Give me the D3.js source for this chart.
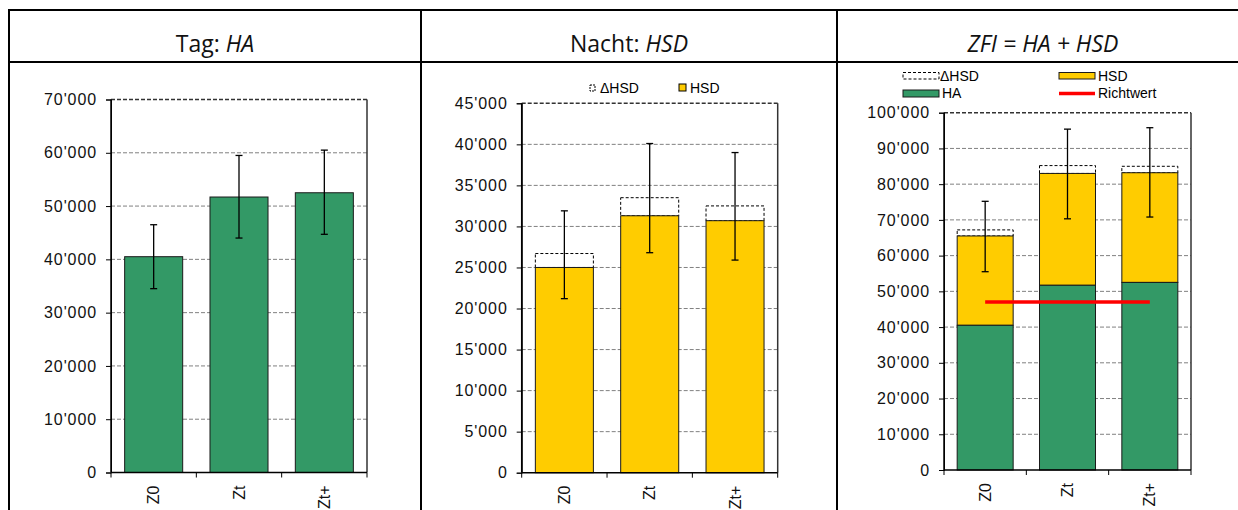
<!DOCTYPE html>
<html>
<head>
<meta charset="utf-8">
<script src="https://cdn.jsdelivr.net/npm/d3@7"></script>
<style>
    body { margin: 0; background: #fff; }
    svg { display: block; }
</style>
</head>
<body>
<script>
// values
const categories = ["Z0", "Zt", "Zt+"];
const haValues = [40500, 51700, 52500];
const haErrLow = [34500, 44000, 44700];
const haErrHigh = [46500, 59500, 60500];
const hsdValues = [25000, 31300, 30700];
const deltaHsdValues = [1700, 2200, 1800];
const hsdErrLow = [21200, 26800, 25900];
const hsdErrHigh = [31900, 40100, 39000];
const zfiErrLow = [55500, 70300, 70800];
const zfiErrHigh = [75200, 95400, 95800];
const richtwert = 47000;
const yTicksTag = d3.range(0, 70001, 10000);
const yTicksNacht = d3.range(0, 45001, 5000);
const yTicksZfi = d3.range(0, 100001, 10000);

const GREEN = "#339966";
const YELLOW = "#FFCC00";
const AXIS_FONT = "'Liberation Sans', Arial, sans-serif";
const HEAD_FONT = "'Open Sans', 'Noto Sans', sans-serif";

const locale = d3.formatLocale({ decimal: ".", thousands: "'", grouping: [3], currency: ["", ""] });
const fmt = locale.format(",");

window.onload = initPage;

function initPage() {
    const svg = d3.select("body")
        .append("svg")
        .attr("width", 1238)
        .attr("height", 510);

    drawTable(svg);

    // Tag: HA
    const p1 = makePanel(svg, { left: 111, right: 367, top: 99.5, bottom: 472.5, max: 70000, ticks: yTicksTag });
    p1.g.selectAll(".ha")
        .data(categories)
        .join("rect")
        .attr("x", (d) => p1.x(d))
        .attr("width", p1.x.bandwidth())
        .attr("y", (d, i) => p1.y(haValues[i]))
        .attr("height", (d, i) => p1.y(0) - p1.y(haValues[i]))
        .attr("fill", GREEN)
        .attr("stroke", "#1a1a1a");
    drawErrors(p1, haErrLow, haErrHigh);

    // Nacht: HSD
    const p2 = makePanel(svg, { left: 521.7, right: 777.7, top: 103.3, bottom: 472.7, max: 45000, ticks: yTicksNacht });
    p2.g.selectAll(".delta")
        .data(categories)
        .join("rect")
        .attr("x", (d) => p2.x(d))
        .attr("width", p2.x.bandwidth())
        .attr("y", (d, i) => p2.y(hsdValues[i] + deltaHsdValues[i]))
        .attr("height", (d, i) => p2.y(hsdValues[i]) - p2.y(hsdValues[i] + deltaHsdValues[i]))
        .attr("fill", "#fff")
        .attr("stroke", "#000")
        .attr("stroke-dasharray", "3,2");
    p2.g.selectAll(".hsd")
        .data(categories)
        .join("rect")
        .attr("x", (d) => p2.x(d))
        .attr("width", p2.x.bandwidth())
        .attr("y", (d, i) => p2.y(hsdValues[i]))
        .attr("height", (d, i) => p2.y(0) - p2.y(hsdValues[i]))
        .attr("fill", YELLOW)
        .attr("stroke", "#1a1a1a");
    drawErrors(p2, hsdErrLow, hsdErrHigh);

    const leg2 = svg.append("g").attr("font-family", AXIS_FONT).attr("font-size", 14);
    leg2.append("rect").attr("x", 590).attr("y", 85).attr("width", 5).attr("height", 6)
        .attr("fill", "#fff").attr("stroke", "#000").attr("stroke-dasharray", "2,1");
    leg2.append("text").attr("x", 600).attr("y", 88).attr("dy", "0.35em").text("ΔHSD");
    leg2.append("rect").attr("x", 679).attr("y", 84).attr("width", 7).attr("height", 7)
        .attr("fill", YELLOW).attr("stroke", "#000");
    leg2.append("text").attr("x", 690).attr("y", 88).attr("dy", "0.35em").text("HSD");

    // ZFI = HA + HSD
    const p3 = makePanel(svg, { left: 944, right: 1191, top: 112.7, bottom: 470, max: 100000, ticks: yTicksZfi });
    p3.g.selectAll(".delta")
        .data(categories)
        .join("rect")
        .attr("x", (d) => p3.x(d))
        .attr("width", p3.x.bandwidth())
        .attr("y", (d, i) => p3.y(haValues[i] + hsdValues[i] + deltaHsdValues[i]))
        .attr("height", (d, i) => p3.y(haValues[i] + hsdValues[i]) - p3.y(haValues[i] + hsdValues[i] + deltaHsdValues[i]))
        .attr("fill", "#fff")
        .attr("stroke", "#000")
        .attr("stroke-dasharray", "3,2");
    p3.g.selectAll(".hsd")
        .data(categories)
        .join("rect")
        .attr("x", (d) => p3.x(d))
        .attr("width", p3.x.bandwidth())
        .attr("y", (d, i) => p3.y(haValues[i] + hsdValues[i]))
        .attr("height", (d, i) => p3.y(haValues[i]) - p3.y(haValues[i] + hsdValues[i]))
        .attr("fill", YELLOW)
        .attr("stroke", "#1a1a1a");
    p3.g.selectAll(".ha")
        .data(categories)
        .join("rect")
        .attr("x", (d) => p3.x(d))
        .attr("width", p3.x.bandwidth())
        .attr("y", (d, i) => p3.y(haValues[i]))
        .attr("height", (d, i) => p3.y(0) - p3.y(haValues[i]))
        .attr("fill", GREEN)
        .attr("stroke", "#1a1a1a");
    const c = (d) => p3.x(d) + p3.x.bandwidth() / 2;
    p3.g.append("line")
        .attr("x1", c(categories[0]))
        .attr("x2", c(categories[categories.length - 1]))
        .attr("y1", p3.y(richtwert))
        .attr("y2", p3.y(richtwert))
        .attr("stroke", "#ff0000")
        .attr("stroke-width", 3.5);
    drawErrors(p3, zfiErrLow, zfiErrHigh);

    const leg3 = svg.append("g").attr("font-family", AXIS_FONT).attr("font-size", 14);
    leg3.append("rect").attr("x", 903).attr("y", 72.5).attr("width", 36).attr("height", 6.5)
        .attr("fill", "#fff").attr("stroke", "#000").attr("stroke-dasharray", "3,2");
    leg3.append("text").attr("x", 940).attr("y", 76).attr("dy", "0.35em").text("ΔHSD");
    leg3.append("rect").attr("x", 1059).attr("y", 72.5).attr("width", 36).attr("height", 6.5)
        .attr("fill", YELLOW).attr("stroke", "#1a1a1a");
    leg3.append("text").attr("x", 1098).attr("y", 76).attr("dy", "0.35em").text("HSD");
    leg3.append("rect").attr("x", 903).attr("y", 90).attr("width", 36).attr("height", 7)
        .attr("fill", GREEN).attr("stroke", "#1a1a1a");
    leg3.append("text").attr("x", 942).attr("y", 93.5).attr("dy", "0.35em").text("HA");
    leg3.append("line").attr("x1", 1059).attr("x2", 1095).attr("y1", 93.5).attr("y2", 93.5)
        .attr("stroke", "#ff0000").attr("stroke-width", 3.5);
    leg3.append("text").attr("x", 1098).attr("y", 93.5).attr("dy", "0.35em").text("Richtwert");
}

function drawTable(svg) {
    const t = svg.append("g").attr("stroke", "#000").attr("stroke-width", 2).attr("fill", "none");
    t.append("line").attr("x1", 9).attr("x2", 1238).attr("y1", 10).attr("y2", 10);
    t.append("line").attr("x1", 9).attr("x2", 1238).attr("y1", 62).attr("y2", 62);
    [9, 421, 837].forEach((x) => {
        t.append("line").attr("x1", x).attr("x2", x).attr("y1", 9).attr("y2", 510);
    });

    const h = svg.append("g")
        .attr("font-family", HEAD_FONT)
        .attr("font-size", 23)
        .attr("text-anchor", "middle")
        .attr("fill", "#111");
    const t1 = h.append("text").attr("x", 215).attr("y", 44).attr("dy", "0.35em");
    t1.append("tspan").text("Tag: ");
    t1.append("tspan").attr("font-style", "italic").text("HA");
    const t2 = h.append("text").attr("x", 629).attr("y", 44).attr("dy", "0.35em");
    t2.append("tspan").text("Nacht: ");
    t2.append("tspan").attr("font-style", "italic").text("HSD");
    h.append("text").attr("x", 1043).attr("y", 44).attr("dy", "0.35em")
        .attr("font-style", "italic").text("ZFI = HA + HSD");
}

function makePanel(svg, cfg) {
    const x = d3.scaleBand()
        .domain(categories)
        .range([cfg.left, cfg.right])
        .paddingInner(0.32)
        .paddingOuter(0.16);
    const y = d3.scaleLinear()
        .domain([0, cfg.max])
        .range([cfg.bottom, cfg.top]);
    const g = svg.append("g");

    // dashed grid
    g.append("g")
        .selectAll("line")
        .data(cfg.ticks.filter((v) => v > 0))
        .join("line")
        .attr("x1", cfg.left)
        .attr("x2", cfg.right)
        .attr("y1", (d) => y(d))
        .attr("y2", (d) => y(d))
        .attr("stroke", (d) => d === cfg.max ? "#333" : "#808080")
        .attr("stroke-width", (d) => d === cfg.max ? 1.5 : 1)
        .attr("stroke-dasharray", "4,2");
    g.append("line")
        .attr("x1", cfg.right).attr("x2", cfg.right)
        .attr("y1", cfg.top).attr("y2", cfg.bottom)
        .attr("stroke", "#333")
        .attr("stroke-width", 1.5);

    const yAxis = g.append("g")
        .attr("transform", `translate(${cfg.left},0)`)
        .call(d3.axisLeft(y).tickValues(cfg.ticks).tickFormat(fmt).tickSize(5).tickPadding(9));
    yAxis.selectAll("text")
        .attr("font-family", AXIS_FONT)
        .attr("font-size", 16)
        .attr("letter-spacing", "0.9px")
        .attr("fill", "#111");

    // x axis: ticks at category boundaries
    const bounds = [cfg.left].concat(categories.map((d) => x(d) + x.bandwidth() + x.step() * x.paddingInner() / 2));
    bounds[bounds.length - 1] = cfg.right;
    const xAxis = g.append("g");
    xAxis.selectAll("line.tk")
        .data(bounds)
        .join("line")
        .attr("x1", (d) => d).attr("x2", (d) => d)
        .attr("y1", cfg.bottom).attr("y2", cfg.bottom + 5)
        .attr("stroke", "#000");
    xAxis.selectAll("text")
        .data(categories)
        .join("text")
        .attr("transform", (d) => `translate(${x(d) + x.bandwidth() / 2},${cfg.bottom + 13}) rotate(-90)`)
        .attr("dy", "0.35em")
        .attr("text-anchor", "end")
        .attr("font-family", AXIS_FONT)
        .attr("font-size", 16)
        .attr("fill", "#111")
        .text((d) => d);

    return { g, x, y, cfg, yAxis, xAxis };
}

function drawErrors(p, lows, highs) {
    const cx = (d) => p.x(d) + p.x.bandwidth() / 2;
    const eg = p.g.append("g").attr("stroke", "#000").attr("stroke-width", 1.3);
    eg.selectAll(".stem")
        .data(categories)
        .join("line")
        .attr("x1", cx).attr("x2", cx)
        .attr("y1", (d, i) => p.y(lows[i]))
        .attr("y2", (d, i) => p.y(highs[i]));
    eg.selectAll(".capHi")
        .data(categories)
        .join("line")
        .attr("x1", (d) => cx(d) - 3.5).attr("x2", (d) => cx(d) + 3.5)
        .attr("y1", (d, i) => p.y(highs[i]))
        .attr("y2", (d, i) => p.y(highs[i]));
    eg.selectAll(".capLo")
        .data(categories)
        .join("line")
        .attr("x1", (d) => cx(d) - 3.5).attr("x2", (d) => cx(d) + 3.5)
        .attr("y1", (d, i) => p.y(lows[i]))
        .attr("y2", (d, i) => p.y(lows[i]));

    // axis lines drawn last so they sit on top of the bars
    p.g.append("line")
        .attr("x1", p.cfg.left).attr("x2", p.cfg.right)
        .attr("y1", p.cfg.bottom).attr("y2", p.cfg.bottom)
        .attr("stroke", "#000").attr("stroke-width", 1.5);
    p.g.append("line")
        .attr("x1", p.cfg.left).attr("x2", p.cfg.left)
        .attr("y1", p.cfg.top).attr("y2", p.cfg.bottom)
        .attr("stroke", "#000").attr("stroke-width", 1.5);
}
</script>
</body>
</html>
